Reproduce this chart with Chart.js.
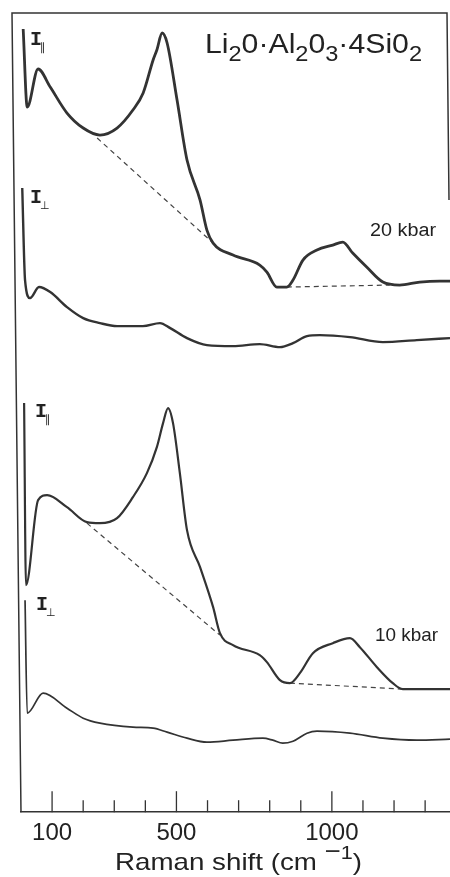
<!DOCTYPE html>
<html>
<head>
<meta charset="utf-8">
<script src="https://cdn.jsdelivr.net/npm/chart.js@4.4.0/dist/chart.umd.min.js"></script>
<style>
html, body { margin: 0; padding: 0; background: #fff; }
#wrap { width: 450px; height: 877px; }
</style>
</head>
<body>
<div id="wrap"><canvas id="raman"></canvas></div>
<script>
// Raman shift (cm-1) and intensity (arbitrary units)
var par20X = [7, 20, 55, 94, 148, 200, 254, 309, 360, 393, 425, 437, 454, 470, 502, 534, 576, 598, 618, 682, 768, 791, 823, 855, 875, 907, 952, 1003, 1035, 1067, 1112, 1164, 1218, 1283, 1347, 1380];
var par20Y = [783, 705, 743, 725, 699, 684, 677, 684, 702, 719, 752, 762, 779, 769, 712, 652, 612, 582, 569, 557, 547, 540, 525, 525, 532, 552, 562, 567, 570, 559, 545, 530, 527, 530, 531, 531];

var perp20X = [4, 13, 29, 58, 94, 148, 200, 254, 309, 392, 447, 480, 534, 598, 682, 768, 833, 875, 920, 961, 1058, 1164, 1273, 1380];
var perp20Y = [624, 532, 514, 525, 520, 505, 494, 489, 486, 486, 489, 484, 474, 467, 466, 468, 465, 469, 476, 477, 475, 470, 472, 474];

var par10X = [10, 16, 55, 84, 148, 212, 254, 309, 360, 405, 437, 457, 473, 489, 511, 534, 576, 618, 640, 682, 768, 791, 833, 865, 897, 939, 1003, 1058, 1090, 1145, 1196, 1228, 1305, 1380];
var par10Y = [409, 227, 312, 317, 305, 290, 289, 294, 315, 339, 365, 389, 404, 389, 339, 282, 245, 205, 179, 167, 157, 150, 132, 129, 139, 159, 169, 174, 165, 145, 129, 123, 123, 123];

var perp10X = [13, 20, 71, 148, 200, 254, 360, 425, 470, 534, 598, 682, 778, 810, 842, 875, 920, 952, 1058, 1164, 1273, 1380];
var perp10Y = [212, 99, 119, 104, 94, 89, 85, 84, 80, 74, 70, 72, 74, 72, 69, 71, 79, 81, 79, 74, 72, 73];

// dashed baselines
var base20aX = [245, 618], base20aY = [674, 569];
var base20bX = [855, 1186], base20bY = [525, 527];
var base10aX = [212, 640], base10aY = [289, 177];
var base10bX = [865, 1235], base10bY = [129, 123];

var tickValues = [100, 200, 300, 400, 500, 600, 700, 800, 900, 1000, 1100, 1200, 1300];
var majorTicks = [100, 500, 1000];

var ink = '#333';
var textInk = '#222';

function pts(xs, ys) {
  return xs.map(function (x, i) { return { x: x, y: ys[i] }; });
}

function trace(xs, ys, w) {
  return { data: pts(xs, ys), showLine: true, borderColor: ink, borderWidth: w,
    pointRadius: 0, cubicInterpolationMode: 'monotone', fill: false };
}

function dashed(xs, ys) {
  return { data: pts(xs, ys), showLine: true, borderColor: '#444', borderWidth: 1.2,
    borderDash: [5, 4], pointRadius: 0, fill: false };
}

// text with sub/superscript pieces, squeezed/stretched to a given width
function richText(ctx, parts, x, y, size, width) {
  var total = 0;
  parts.forEach(function (p) {
    ctx.font = (p.s ? size * 0.78 : size) + 'px "Liberation Sans"';
    p.w = ctx.measureText(p.t).width;
    total += p.w;
  });
  var sx = width ? width / total : 1;
  ctx.save();
  ctx.translate(x, y);
  ctx.scale(sx, 1);
  var cx = 0;
  parts.forEach(function (p) {
    ctx.font = (p.s ? size * 0.78 : size) + 'px "Liberation Sans"';
    var dy = p.s === 1 ? size * 0.28 : (p.s === -1 ? -size * 0.45 : (p.dy || 0));
    ctx.fillText(p.t, cx, dy);
    cx += p.w;
  });
  ctx.restore();
}

function polLabel(ctx, x, y, sub) {
  ctx.font = 'bold 20px "Liberation Mono"';
  ctx.fillText('I', x, y);
  ctx.font = '11px "DejaVu Sans"';
  ctx.fillText(sub, x + 10, y + 6);
}

var decor = {
  id: 'decor',
  afterDraw: function (chart) {
    var ctx = chart.ctx, xs = chart.scales.x, a = chart.chartArea;
    ctx.save();
    ctx.strokeStyle = ink;
    ctx.fillStyle = textInk;
    ctx.lineWidth = 1.5;
    // frame (the scan is slightly skewed)
    ctx.beginPath();
    ctx.moveTo(21, a.bottom);
    ctx.lineTo(12, 13);
    ctx.lineTo(447, 13);
    ctx.lineTo(449, 200);
    ctx.stroke();
    // inward tick marks
    ctx.lineWidth = 1.3;
    xs.ticks.forEach(function (t) {
      var px = xs.getPixelForValue(t.value);
      var len = majorTicks.indexOf(t.value) >= 0 ? 21 : 12;
      ctx.beginPath();
      ctx.moveTo(px, a.bottom);
      ctx.lineTo(px, a.bottom - len);
      ctx.stroke();
    });
    // labels
    ctx.textBaseline = 'alphabetic';
    ctx.textAlign = 'left';
    richText(ctx, [{ t: 'Li' }, { t: '2', s: 1 }, { t: '0' }, { t: '\u00b7' }, { t: 'Al' }, { t: '2', s: 1 },
      { t: '0' }, { t: '3', s: 1 }, { t: '\u00b7' }, { t: '4Si' }, { t: '0' }, { t: '2', s: 1 }], 205, 53, 28, 217);
    richText(ctx, [{ t: '20 kbar' }], 370, 236, 18, 66);
    richText(ctx, [{ t: '10 kbar' }], 375, 641, 19, 63);
    richText(ctx, [{ t: 'Raman shift (cm ' }, { t: '\u2212', dy: -11 }, { t: '1', s: -1 }, { t: ')' }], 115, 870, 24, 247);
    polLabel(ctx, 30, 45, '\u2225');
    polLabel(ctx, 30, 203, '\u22a5');
    polLabel(ctx, 35, 417, '\u2225');
    polLabel(ctx, 36, 610, '\u22a5');
    ctx.restore();
  }
};

new Chart(document.getElementById('raman'), {
  type: 'scatter',
  data: {
    datasets: [
      trace(par20X, par20Y, 2.8),
      trace(perp20X, perp20Y, 2.4),
      trace(par10X, par10Y, 2.2),
      trace(perp10X, perp10Y, 1.7),
      dashed(base20aX, base20aY),
      dashed(base20bX, base20bY),
      dashed(base10aX, base10aY),
      dashed(base10bX, base10bY)
    ]
  },
  options: {
    responsive: true,
    maintainAspectRatio: false,
    animation: false,
    layout: { padding: { left: 21, right: -5, top: 14, bottom: 22 } },
    plugins: { legend: { display: false }, tooltip: { enabled: false } },
    scales: {
      x: {
        type: 'linear', min: 0, max: 1380,
        afterBuildTicks: function (s) { s.ticks = tickValues.map(function (v) { return { value: v }; }); },
        ticks: {
          callback: function (v) { return majorTicks.indexOf(v) >= 0 ? String(v) : ''; },
          font: { family: 'Liberation Sans', size: 24 }, color: textInk, padding: 7,
          maxRotation: 0, autoSkip: false
        },
        grid: { drawOnChartArea: false, drawTicks: false },
        border: { display: true, color: ink, width: 1.5 }
      },
      y: { display: false, min: 0, max: 798 }
    }
  },
  plugins: [decor]
});
</script>
</body>
</html>
